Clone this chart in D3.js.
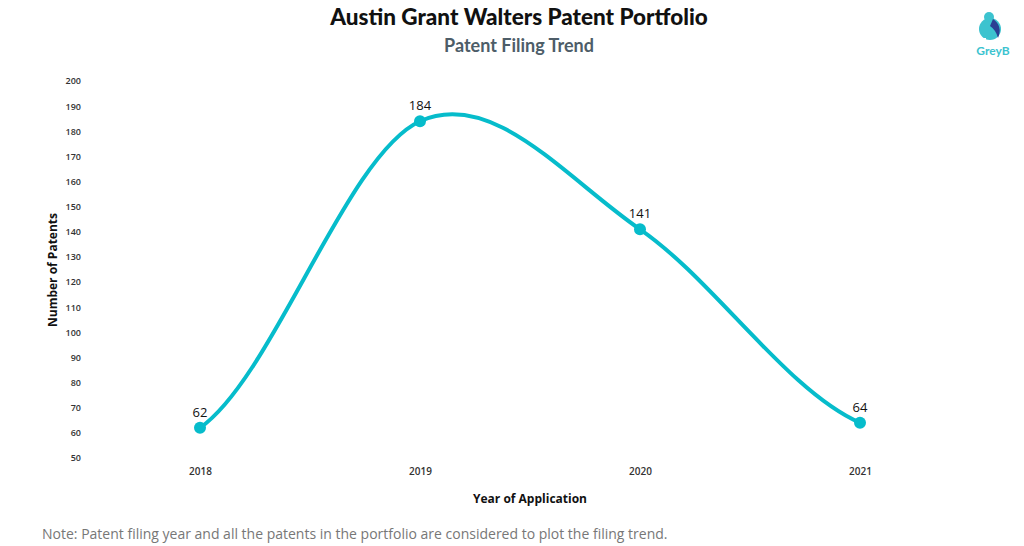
<!DOCTYPE html>
<html><head><meta charset="utf-8">
<script src="https://cdn.jsdelivr.net/npm/d3@7"></script>
<style>body{margin:0;background:#fff;} svg{display:block;}</style>
</head><body>
<svg id="c" width="1024" height="546"></svg>
<script>
const years = ["2018","2019","2020","2021"];
const patents = [62,184,141,64];
const yTicks = [50,60,70,80,90,100,110,120,130,140,150,160,170,180,190,200];

const svg = d3.select("#c");
const x = d3.scalePoint().domain(years).range([90,970]).padding(0.5);
const y = d3.scaleLinear().domain([50,200]).range([458,81]);

// spline curve: catmull-rom tangents inside, half-chord slope at the ends
function splineCurve(context) {
  let pts = [];
  return {
    areaStart(){}, areaEnd(){},
    lineStart(){ pts = []; },
    point(px, py){ pts.push([px, py]); },
    lineEnd(){
      const n = pts.length;
      if (!n) return;
      const m = pts.map((p, i) => {
        if (n < 2) return 0;
        if (i === 0) return (pts[1][1]-p[1]) / (2*(pts[1][0]-p[0]));
        if (i === n-1) return (p[1]-pts[i-1][1]) / (2*(p[0]-pts[i-1][0]));
        return (pts[i+1][1]-pts[i-1][1]) / (pts[i+1][0]-pts[i-1][0]);
      });
      context.moveTo(pts[0][0], pts[0][1]);
      for (let i = 0; i < n-1; i++) {
        const a = pts[i], b = pts[i+1], h = (b[0]-a[0])/3;
        context.bezierCurveTo(a[0]+h, a[1]+m[i]*h, b[0]-h, b[1]-m[i+1]*h, b[0], b[1]);
      }
    }
  };
}

svg.append("text").attr("x",519).attr("y",25).attr("text-anchor","middle")
  .attr("font-family","Lato").attr("font-weight","900").attr("font-size",22.5).attr("fill","#111")
  .text("Austin Grant Walters Patent Portfolio");
svg.append("text").attr("x",519).attr("y",52).attr("text-anchor","middle")
  .attr("font-family","Lato").attr("font-weight","bold").attr("font-size",18).attr("fill","#4d5d68")
  .text("Patent Filing Trend");

// logo
const lg = svg.append("g");
lg.append("circle").attr("cx",990).attr("cy",29).attr("r",11).attr("fill","#3cc3cf");
lg.append("circle").attr("cx",989).attr("cy",17).attr("r",5).attr("fill","#3cc3cf");
lg.append("path").attr("d","M993,19 Q1003,26 998,38 Q996,30 990,26 Z").attr("fill","#2b3f93");
lg.append("rect").attr("x",978).attr("y",38).attr("width",8).attr("height",5).attr("fill","#fff");
lg.append("text").attr("x",993).attr("y",55).attr("text-anchor","middle")
  .attr("font-family","Lato").attr("font-weight","bold").attr("font-size",12).attr("fill","#3cc3cf").text("GreyB");

// y axis
const ya = svg.append("g").attr("transform","translate(81,0)")
  .call(d3.axisLeft(y).tickValues(yTicks).tickSize(0).tickPadding(0));
ya.select(".domain").remove();
ya.selectAll("text").attr("font-family","Open Sans").attr("font-weight","600").attr("font-size",9).attr("fill","#333");

const xa = svg.append("g").attr("transform","translate(0,468)")
  .call(d3.axisBottom(x).tickSize(0).tickPadding(0));
xa.select(".domain").remove();
xa.selectAll("text").attr("font-family","Open Sans").attr("font-weight","600").attr("font-size",10).attr("fill","#333");

svg.append("text").attr("transform","translate(57,270) rotate(-90)").attr("text-anchor","middle")
  .attr("font-family","Open Sans").attr("font-weight","bold").attr("font-size",12).attr("fill","#111")
  .text("Number of Patents");
svg.append("text").attr("x",530).attr("y",503).attr("text-anchor","middle")
  .attr("font-family","Open Sans").attr("font-weight","bold").attr("font-size",12).attr("fill","#111")
  .text("Year of Application");

const line = d3.line().x((d,i)=>x(years[i])).y(d=>y(d)).curve(splineCurve);
svg.append("path").datum(patents).attr("d",line).attr("fill","none")
  .attr("stroke","#06bccb").attr("stroke-width",4);
svg.selectAll(".pt").data(patents).join("circle").attr("cx",(d,i)=>x(years[i])).attr("cy",d=>y(d))
  .attr("r",6).attr("fill","#06bccb");
svg.selectAll(".lb").data(patents).join("text").attr("x",(d,i)=>x(years[i])).attr("y",d=>y(d)-11)
  .attr("text-anchor","middle").attr("font-family","Open Sans").attr("font-size",13).attr("fill","#111")
  .text(d=>d);

svg.append("text").attr("x",42).attr("y",539).attr("font-family","Open Sans").attr("font-size",14)
  .attr("fill","#777").text("Note: Patent filing year and all the patents in the portfolio are considered to plot the filing trend.");
</script>
</body></html>
